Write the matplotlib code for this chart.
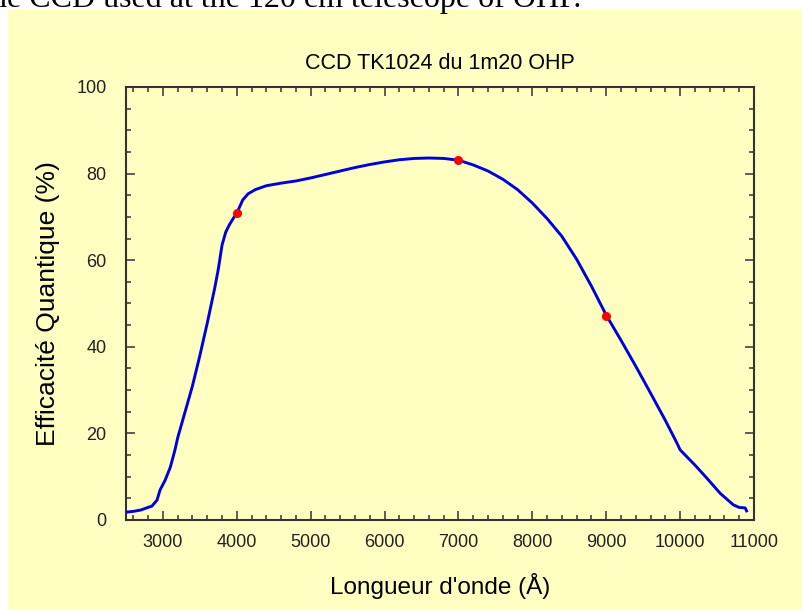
import matplotlib
matplotlib.use("Agg")
import matplotlib.pyplot as plt
from matplotlib.patches import Rectangle
from matplotlib.ticker import MultipleLocator

# Quantum efficiency curve
wavelength = [2500, 2600, 2700, 2780, 2850, 2920, 2960, 3030, 3100, 3160, 3200,
              3300, 3400, 3500, 3600, 3700, 3750, 3800, 3850, 3900, 3950, 4000,
              4080, 4150, 4250, 4400, 4600, 4800, 5000, 5200, 5400, 5600, 5800,
              6000, 6200, 6400, 6600, 6800, 7000, 7200, 7400, 7600, 7800, 8000,
              8200, 8400, 8600, 8800, 9000, 9200, 9400, 9600, 9800, 9950, 10000,
              10200, 10360, 10540, 10720, 10800, 10880, 10900]
efficiency = [1.8, 2.0, 2.3, 2.8, 3.2, 4.6, 6.9, 9.2, 12.2, 16.0, 19.0,
              25.0, 31.0, 38.0, 45.5, 53.5, 58.0, 63.5, 66.5, 68.2, 69.6, 70.9,
              73.9, 75.3, 76.3, 77.2, 77.8, 78.3, 79.0, 79.8, 80.6, 81.4, 82.1,
              82.7, 83.2, 83.5, 83.6, 83.5, 83.1, 82.0, 80.6, 78.7, 76.3, 73.2,
              69.6, 65.5, 60.2, 54.0, 47.3, 41.5, 35.5, 29.3, 23.0, 18.0, 16.2,
              12.7, 9.7, 6.2, 3.5, 2.9, 2.8, 2.1]

# Highlighted points
point_wavelength = [4000, 7000, 9000]
point_efficiency = [70.9, 83.1, 47.2]

title = "CCD TK1024 du 1m20 OHP"
xlabel = "Longueur d'onde (\u00c5)"
ylabel = "Efficacit\u00e9 Quantique (%)"
xticks = [3000, 4000, 5000, 6000, 7000, 8000, 9000, 10000, 11000]
yticks = [0, 20, 40, 60, 80, 100]

W, H = 803, 610
bg = "#ffffc2"
fig = plt.figure(figsize=(W / 100, H / 100), dpi=100, facecolor="white")
bgrect = Rectangle((8 / W, 0), 1, 1 - 10 / H, transform=fig.transFigure,
                   facecolor=bg, edgecolor="none", zorder=-10)
fig.add_artist(bgrect)

# cut-off caption text at the very top
fig.text(-9 / W, 1 - 7 / H, "he CCD used at the 120 cm telescope of OHP.",
         family="Liberation Serif", fontsize=23, va="baseline", ha="left", color="black")

left, right, top, bottom = 126, 754, 87, 520
ax = fig.add_axes([left / W, 1 - bottom / H, (right - left) / W, (bottom - top) / H])
ax.set_zorder(1)
ax.set_facecolor(bg)

ax.plot(wavelength, efficiency, color="#0000dd", lw=2.1, solid_joinstyle="round", zorder=3)
ax.plot(point_wavelength, point_efficiency, "o", color="#ff0000", ms=6.5, mec="none", zorder=4)

ax.set_xlim(2500, 11000)
ax.set_ylim(0, 100)
ax.set_xticks(xticks)
ax.set_yticks(yticks)
ax.xaxis.set_minor_locator(MultipleLocator(200))
ax.yaxis.set_minor_locator(MultipleLocator(5))

for s in ax.spines.values():
    s.set_color("#333333")
    s.set_linewidth(1.5)

ax.tick_params(which="both", direction="in", top=True, right=True, color="#333333", width=1.1)
ax.tick_params(which="major", length=6.5)
ax.tick_params(which="minor", length=3.6)
ax.tick_params(axis="x", which="major", pad=10, labelsize=13, labelcolor="#222222")
ax.tick_params(axis="y", which="major", pad=14, labelsize=13, labelcolor="#222222")
for lab in ax.get_xticklabels() + ax.get_yticklabels():
    lab.set_family("Liberation Sans")

ax.set_title(title, family="Liberation Sans", fontsize=15.5, pad=13, color="black")
ax.set_xlabel(xlabel, family="Liberation Sans", fontsize=17.5, labelpad=16, color="black")
ax.set_ylabel(ylabel, family="Liberation Sans", fontsize=19, labelpad=12, color="black")

fig.savefig("out.png", dpi=100, facecolor="white")
